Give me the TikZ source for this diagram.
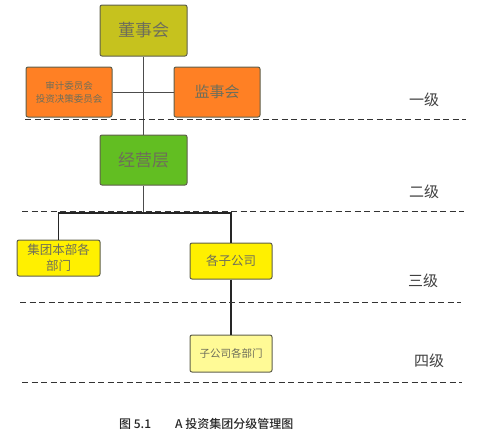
\documentclass[tikz,border=0pt]{standalone}
\usepackage{fontspec}
\newfontfamily\cjk{Noto Sans CJK SC}
\newfontfamily\cjkb{Noto Sans CJK SC Medium}
\usetikzlibrary{calc}
\definecolor{boardc}{RGB}{198,194,30}
\definecolor{orangec}{RGB}{255,128,36}
\definecolor{greenc}{RGB}{98,190,34}
\definecolor{yelc}{RGB}{255,240,0}
\definecolor{lyelc}{RGB}{255,250,150}
\definecolor{bordc}{RGB}{95,95,75}
\definecolor{txtc}{RGB}{110,110,90}
\tikzset{
  boxs/.style={draw=bordc, line width=1pt, rounded corners=2pt, inner sep=0pt, align=center, text=txtc, font=\cjk},
  conn/.style={draw=black!70, line width=0.9pt},
  connb/.style={draw=black!85, line width=1.3pt},
  levline/.style={draw=black!80, line width=1pt, dash pattern=on 6pt off 3.5pt},
  levlab/.style={font=\cjk\fontsize{15}{15}\selectfont, text=black!75, inner sep=0pt}
}
\begin{document}
\begin{tikzpicture}[x=1pt,y=-1pt]
\useasboundingbox (0,0) rectangle (482,432);
% boxes
\node[boxs, fill=boardc, minimum width=87pt, minimum height=51pt, font=\cjk\fontsize{17}{17}\selectfont] (board) at (143.5,30.5) {董事会};
\node[boxs, fill=orangec, minimum width=86pt, minimum height=50pt, font=\cjk\fontsize{9.5}{13}\selectfont] (audit) at (69,92) {审计委员会\\投资决策委员会};
\node[boxs, fill=orangec, minimum width=86pt, minimum height=50pt, font=\cjk\fontsize{15}{15}\selectfont] (superv) at (217,92) {监事会};
\node[boxs, fill=greenc, minimum width=87pt, minimum height=50pt, font=\cjk\fontsize{17}{17}\selectfont] (oper) at (143.5,160) {经营层};
\node[boxs, fill=yelc, minimum width=83pt, minimum height=36pt, font=\cjk\fontsize{12.5}{16}\selectfont] (hq) at (58.5,258) {集团本部各\\部门};
\node[boxs, fill=yelc, minimum width=82pt, minimum height=36pt, font=\cjk\fontsize{12.5}{12.5}\selectfont] (subs) at (231,261) {各子公司};
\node[boxs, fill=lyelc, minimum width=82pt, minimum height=37pt, font=\cjk\fontsize{10.5}{10.5}\selectfont] (subd) at (231,353.5) {子公司各部门};
% connectors
\draw[conn] (board.south) -- (oper.north);
\draw[conn] (audit.east) -- (superv.west);
\coordinate (junc) at (143.5,213);
\draw[conn] (oper.south) -- (junc);
\draw[connb] (hq.north) |- (junc) -| (subs.north);
\draw[connb] (subs.south) -- (subd.north);
% level lines
\coordinate (l1a) at (25,119); \coordinate (l1b) at (466,119);
\coordinate (l2a) at (22,211); \coordinate (l2b) at (464,211);
\coordinate (l3a) at (20,302); \coordinate (l3b) at (461,302);
\coordinate (l4a) at (22,382); \coordinate (l4b) at (462,382);
\draw[levline] (l1a) -- (l1b);
\draw[levline] (l2a) -- (l2b);
\draw[levline] (l3a) -- (l3b);
\draw[levline] (l4a) -- (l4b);
% level labels
\node[levlab] (lab1) at (424,100) {一级};
\node[levlab] (lab2) at (424,192) {二级};
\node[levlab] (lab3) at (423,281) {三级};
\node[levlab] (lab4) at (429,361) {四级};
% caption
\node[font=\cjkb\fontsize{12}{12}\selectfont, inner sep=0pt, anchor=west, text=black!85] (cap) at (119,424) {图 5.1\hspace{24pt}A 投资集团分级管理图};
\end{tikzpicture}
\end{document}
